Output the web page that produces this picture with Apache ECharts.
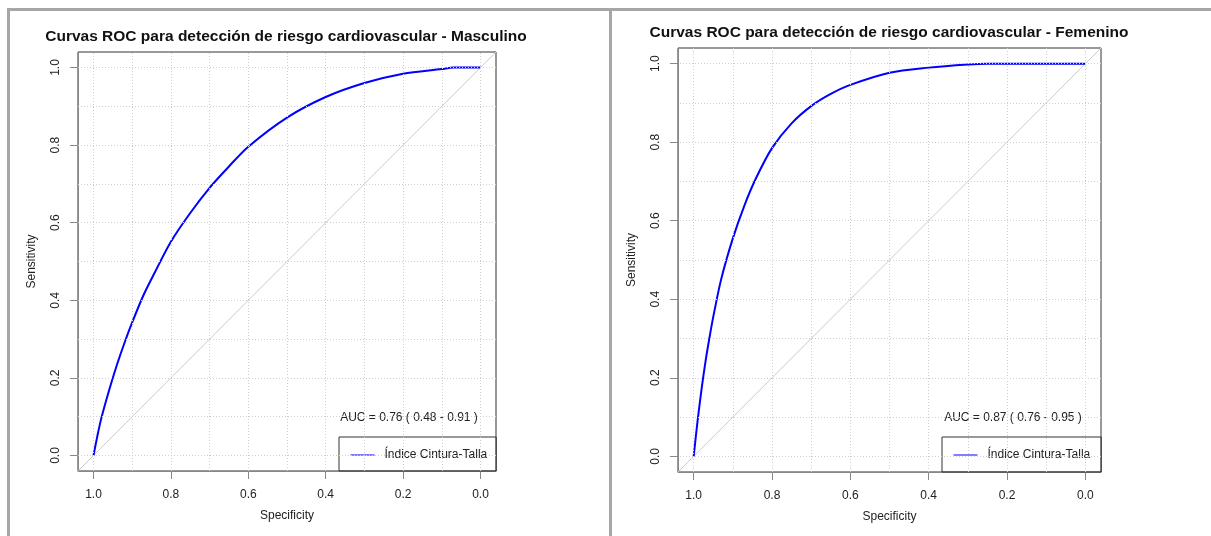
<!DOCTYPE html>
<html>
<head>
<meta charset="utf-8">
<title>Curvas ROC</title>
<script src="https://cdn.jsdelivr.net/npm/echarts@6/dist/echarts.min.js"></script>
<style>
html, body { margin: 0; padding: 0; background: #fff; }
#chart { width: 1211px; height: 536px; }
</style>
</head>
<body>
<div id="chart"></div>
<script>
// textos
var titulos = [
  'Curvas ROC para detección de riesgo cardiovascular - Masculino',
  'Curvas ROC para detección de riesgo cardiovascular - Femenino'
];
var serieNombre = 'Índice Cintura-Talla';
var aucTextos = ['AUC = 0.76 ( 0.48 - 0.91 )', 'AUC = 0.87 ( 0.76 - 0.95 )'];

// ticks y rejilla
var tickValores = [0, 0.2, 0.4, 0.6, 0.8, 1];
var rejillaValores = [0, 0.1, 0.2, 0.3, 0.4, 0.5, 0.6, 0.7, 0.8, 0.9, 1];

// curva masculino (especificidad, sensibilidad)
var especMasc = [1.0, 0.99, 0.98, 0.96, 0.94, 0.92, 0.9, 0.87, 0.84, 0.8, 0.75, 0.7, 0.65, 0.6, 0.5, 0.4, 0.3, 0.2, 0.1, 0.07, 0.0];
var sensMasc  = [0.0, 0.05, 0.095, 0.167, 0.232, 0.29, 0.343, 0.415, 0.475, 0.551, 0.625, 0.69, 0.745, 0.796, 0.871, 0.924, 0.96, 0.984, 0.996, 1.0, 1.0];

// curva femenino
var especFem = [1.0, 0.99, 0.98, 0.97, 0.96, 0.95, 0.93, 0.9, 0.87, 0.84, 0.8, 0.75, 0.7, 0.65, 0.6, 0.5, 0.4, 0.3, 0.25, 0.0];
var sensFem  = [0.0, 0.09, 0.17, 0.24, 0.3, 0.355, 0.45, 0.555, 0.64, 0.71, 0.785, 0.848, 0.892, 0.923, 0.946, 0.977, 0.99, 0.998, 1.0, 1.0];

// linea de referencia (esquina a esquina del area)
var diagonal = [[1.04, -0.04], [-0.04, 1.04]];

function pares(x, y) {
  return x.map(function (v, i) { return [v, y[i]]; });
}

var fuente = 'Liberation Sans, Arial, sans-serif';
var gris = '#888';

function ejeX(i) {
  return {
    gridIndex: i, type: 'value', inverse: true, min: -0.04, max: 1.04,
    name: 'Specificity', nameLocation: 'middle', nameGap: 39,
    nameTextStyle: { fontSize: 12, color: '#222' },
    axisLine: { show: true, onZero: false, lineStyle: { color: gris } },
    axisTick: { show: true, length: 8, customValues: tickValores, lineStyle: { color: gris } },
    axisLabel: { customValues: tickValores, margin: 18, fontSize: 12, color: '#222',
      formatter: function (v) { return v.toFixed(1); } },
    splitLine: { show: false }
  };
}
function ejeY(i) {
  return {
    gridIndex: i, type: 'value', min: -0.04, max: 1.04,
    name: 'Sensitivity', nameLocation: 'middle', nameGap: 40,
    nameTextStyle: { fontSize: 12, color: '#222' },
    axisLine: { show: true, onZero: false, lineStyle: { color: gris } },
    axisTick: { show: true, length: 8, customValues: tickValores, lineStyle: { color: gris } },
    axisLabel: { customValues: tickValores, rotate: 90, margin: 16, fontSize: 12, color: '#222',
      formatter: function (v) { return v.toFixed(1); } },
    splitLine: { show: false }
  };
}

function rejilla() {
  var d = [];
  rejillaValores.forEach(function (v) { d.push({ xAxis: v }); d.push({ yAxis: v }); });
  return {
    silent: true, symbol: 'none', animation: false,
    label: { show: false },
    lineStyle: { color: '#cfcfcf', type: [1, 2], width: 1 },
    data: d
  };
}

function serieDiagonal(i) {
  return {
    type: 'line', xAxisIndex: i, yAxisIndex: i, data: diagonal,
    symbol: 'none', silent: true, z: 1,
    lineStyle: { color: '#cccccc', width: 1 },
    markLine: rejilla()
  };
}
function serieCurva(i, datos) {
  return {
    name: serieNombre, type: 'line', xAxisIndex: i, yAxisIndex: i, data: datos,
    symbol: 'none', smooth: 0.3, z: 3,
    lineStyle: { color: '#0000ff', width: 2 },
    itemStyle: { color: '#0000ff' }
  };
}

function leyenda(left, pad) {
  return {
    data: [serieNombre], left: left, top: 437, orient: 'vertical',
    padding: pad, itemWidth: 24, itemHeight: 12,
    borderColor: '#333', borderWidth: 1, borderRadius: 0,
    selectedMode: false,
    itemStyle: { opacity: 0 },
    lineStyle: { width: 1, color: '#0000ff' },
    textStyle: { fontSize: 12, color: '#222', padding: [0, 0, 0, 5] }
  };
}

var chart = echarts.init(document.getElementById('chart'));
var option = {
  animation: false,
  textStyle: { fontFamily: fuente },
  grid: [
    { left: 78, top: 52, width: 418, height: 419, show: true, borderColor: '#333', borderWidth: 1 },
    { left: 678, top: 48, width: 423, height: 424, show: true, borderColor: '#333', borderWidth: 1 }
  ],
  xAxis: [ejeX(0), ejeX(1)],
  yAxis: [ejeY(0), ejeY(1)],
  legend: [leyenda(339, [12, 9, 10, 11]), leyenda(942, [12, 11, 11, 11])],
  series: [
    serieDiagonal(0),
    serieCurva(0, pares(especMasc, sensMasc)),
    serieDiagonal(1),
    serieCurva(1, pares(especFem, sensFem))
  ],
  graphic: [
    // marco gris
    { type: 'rect', shape: { x: 7, y: 8, width: 1204, height: 3 }, style: { fill: '#a6a6a6' } },
    { type: 'rect', shape: { x: 7, y: 8, width: 3, height: 528 }, style: { fill: '#a6a6a6' } },
    { type: 'rect', shape: { x: 609, y: 8, width: 3, height: 528 }, style: { fill: '#a6a6a6' } },
    // titulos
    { type: 'text', x: 286, y: 37, style: { text: titulos[0], align: 'center', verticalAlign: 'middle',
      font: 'bold 15.5px ' + fuente, fill: '#111' } },
    { type: 'text', x: 889, y: 33, style: { text: titulos[1], align: 'center', verticalAlign: 'middle',
      font: 'bold 15.5px ' + fuente, fill: '#111' } },
    // AUC
    { type: 'text', x: 409, y: 418, style: { text: aucTextos[0], align: 'center', verticalAlign: 'middle',
      font: '12px ' + fuente, fill: '#222' } },
    { type: 'text', x: 1013, y: 418, style: { text: aucTextos[1], align: 'center', verticalAlign: 'middle',
      font: '12px ' + fuente, fill: '#222' } }
  ]
};
chart.setOption(option);
</script>
</body>
</html>
